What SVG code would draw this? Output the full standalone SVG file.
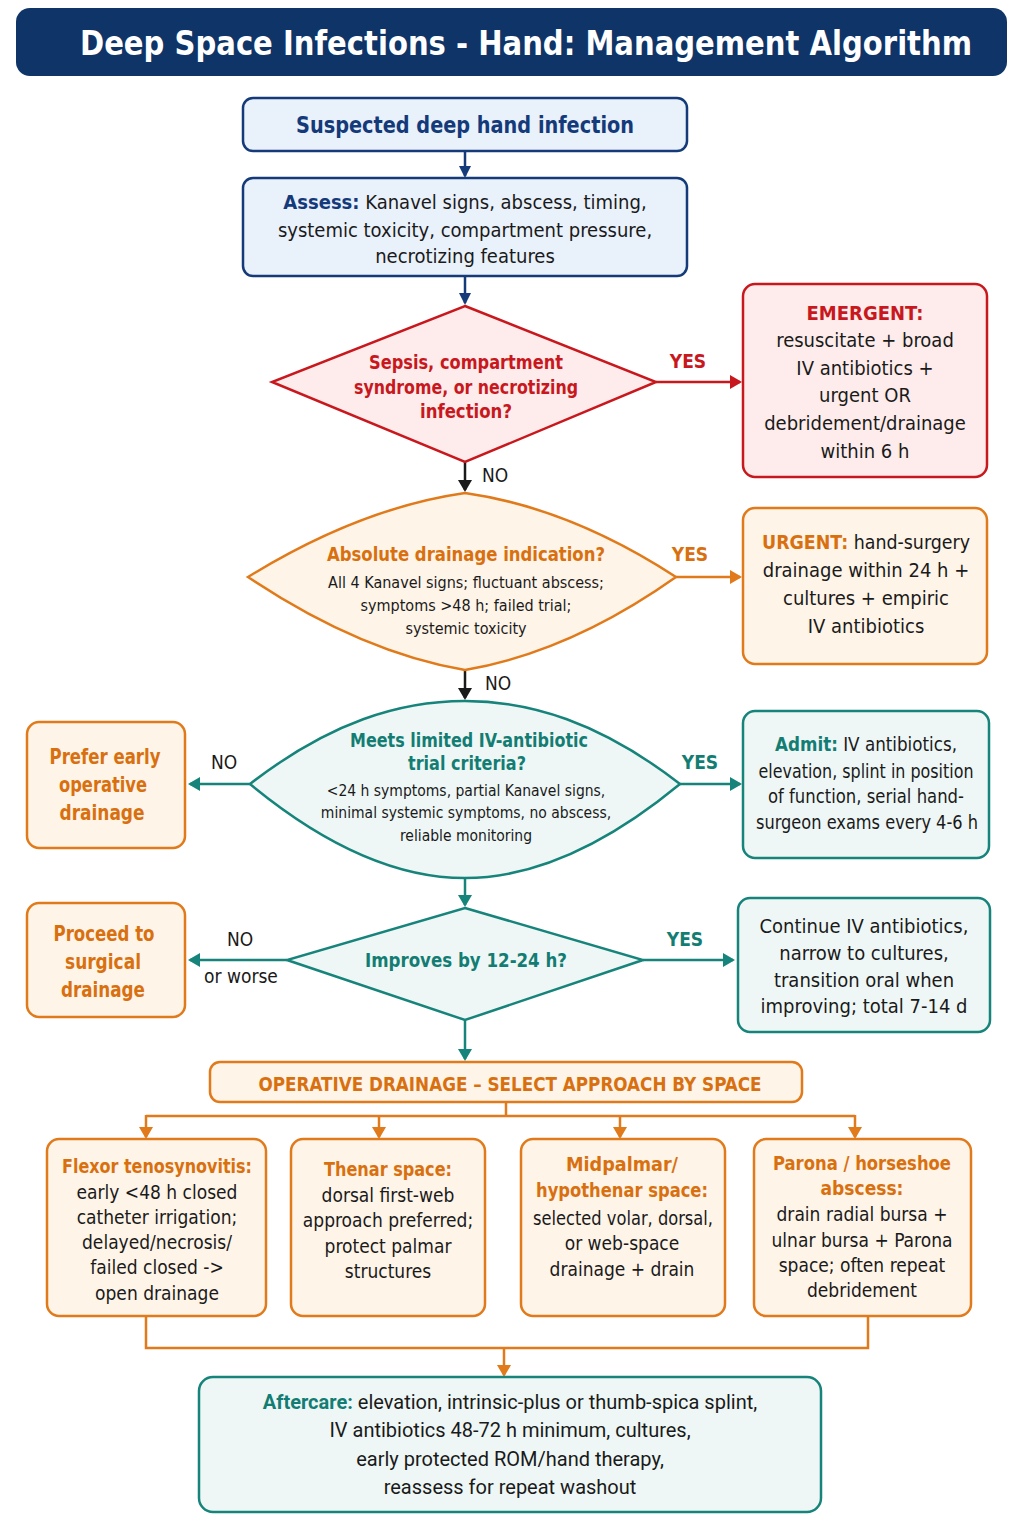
<svg xmlns="http://www.w3.org/2000/svg" width="1024" height="1536" viewBox="0 0 1024 1536">
<defs>
<style>
text{font-family:"Liberation Sans Narrow","DejaVu Sans Condensed","Roboto",sans-serif;text-anchor:middle;fill:#1a1a1a;}
.b{font-weight:bold;}
.navy{fill:#143a7a;} .red{fill:#c8181e;} .org{fill:#d9700f;} .teal{fill:#137d73;}
.t20{font-size:20px;} .t19{font-size:19px;} .t16{font-size:16px;}
.ln{fill:none;stroke-width:2.5;}
.lnavy{stroke:#143a7a;} .lred{stroke:#c8181e;} .lorg{stroke:#e07a1a;} .lteal{stroke:#16847a;} .lblk{stroke:#1a1a1a;}
.nnavy{fill:#e9f1fb;stroke:#143a7a;stroke-width:2.5;}
.nred{fill:#fdeceb;stroke:#c8181e;stroke-width:2.5;}
.norg{fill:#fef4e8;stroke:#e07a1a;stroke-width:2.5;}
.nteal{fill:#eef7f6;stroke:#16847a;stroke-width:2.5;}
.sans{font-family:"Roboto","Liberation Sans",sans-serif;}
</style>
<marker id="aNavy" markerWidth="12" markerHeight="12" refX="10" refY="6" orient="auto" markerUnits="userSpaceOnUse"><path d="M0,0 L12,6 L0,12 Z" fill="#143a7a"/></marker>
<marker id="aRed" markerWidth="12" markerHeight="14" refX="10" refY="7" orient="auto" markerUnits="userSpaceOnUse"><path d="M0,0 L12,7 L0,14 Z" fill="#c8181e"/></marker>
<marker id="aOrg" markerWidth="12" markerHeight="14" refX="10" refY="7" orient="auto" markerUnits="userSpaceOnUse"><path d="M0,0 L12,7 L0,14 Z" fill="#e07a1a"/></marker>
<marker id="aTeal" markerWidth="12" markerHeight="14" refX="10" refY="7" orient="auto" markerUnits="userSpaceOnUse"><path d="M0,0 L12,7 L0,14 Z" fill="#16847a"/></marker>
<marker id="aBlk" markerWidth="12" markerHeight="14" refX="10" refY="7" orient="auto" markerUnits="userSpaceOnUse"><path d="M0,0 L12,7 L0,14 Z" fill="#1a1a1a"/></marker>
</defs>
<rect width="1024" height="1536" fill="#ffffff"/>

<g id="title">
<rect x="16" y="8" width="991" height="68" rx="14" fill="#0e3468"/>
<text x="526" y="55" class="b" style="font-size:34px;fill:#ffffff;" textLength="892" lengthAdjust="spacingAndGlyphs">Deep Space Infections - Hand: Management Algorithm</text>
</g>

<g id="connectors">
<line x1="465" y1="151" x2="465" y2="176" class="ln lnavy" marker-end="url(#aNavy)"/>
<line x1="465" y1="276" x2="465" y2="303" class="ln lnavy" marker-end="url(#aNavy)"/>
<line x1="656" y1="382" x2="740" y2="382" class="ln lred" marker-end="url(#aRed)"/>
<text x="688" y="368" class="b red t19">YES</text>
<line x1="465" y1="462" x2="465" y2="490" class="ln lblk" marker-end="url(#aBlk)"/>
<text x="495" y="482" class="t19">NO</text>
<line x1="676" y1="577" x2="740" y2="577" class="ln lorg" marker-end="url(#aOrg)"/>
<text x="690" y="561" class="b org t19">YES</text>
<line x1="465" y1="670" x2="465" y2="698" class="ln lblk" marker-end="url(#aBlk)"/>
<text x="498" y="690" class="t19">NO</text>
<line x1="250" y1="784" x2="190" y2="784" class="ln lteal" marker-end="url(#aTeal)"/>
<text x="224" y="769" class="t19">NO</text>
<line x1="680" y1="784" x2="740" y2="784" class="ln lteal" marker-end="url(#aTeal)"/>
<text x="700" y="769" class="b teal t19">YES</text>
<line x1="465" y1="878" x2="465" y2="905" class="ln lteal" marker-end="url(#aTeal)"/>
<line x1="287" y1="960" x2="190" y2="960" class="ln lteal" marker-end="url(#aTeal)"/>
<text x="240" y="946" class="t19">NO</text>
<text x="241" y="983" class="t19">or worse</text>
<line x1="643" y1="960" x2="733" y2="960" class="ln lteal" marker-end="url(#aTeal)"/>
<text x="685" y="946" class="b teal t19">YES</text>
<line x1="465" y1="1020" x2="465" y2="1059" class="ln lteal" marker-end="url(#aTeal)"/>
<polyline points="506,1102 506,1116" class="ln lorg"/>
<polyline points="146,1116 855,1116" class="ln lorg"/>
<line x1="146" y1="1115" x2="146" y2="1137" class="ln lorg" marker-end="url(#aOrg)"/>
<line x1="379" y1="1115" x2="379" y2="1137" class="ln lorg" marker-end="url(#aOrg)"/>
<line x1="620" y1="1115" x2="620" y2="1137" class="ln lorg" marker-end="url(#aOrg)"/>
<line x1="855" y1="1115" x2="855" y2="1137" class="ln lorg" marker-end="url(#aOrg)"/>
<polyline points="146,1316 146,1348 868,1348 868,1316" class="ln lorg"/>
<line x1="504" y1="1348" x2="504" y2="1375" class="ln lorg" marker-end="url(#aOrg)"/>
</g>

<g id="start">
<rect x="243" y="98" width="444" height="53" rx="10" class="nnavy"/>
<text x="465" y="133" class="b navy" style="font-size:23px;" textLength="338" lengthAdjust="spacingAndGlyphs">Suspected deep hand infection</text>
</g>

<g id="assess">
<rect x="243" y="178" width="444" height="98" rx="10" class="nnavy"/>
<text x="465" y="209" class="t20"><tspan class="b navy">Assess:</tspan> Kanavel signs, abscess, timing,</text>
<text x="465" y="237" class="t20">systemic toxicity, compartment pressure,</text>
<text x="465" y="263" class="t20">necrotizing features</text>
</g>

<g id="dec-sepsis">
<polygon points="465,306 656,382 465,462 272,382" class="nred"/>
<text x="466" y="369" class="b red t19" textLength="194" lengthAdjust="spacingAndGlyphs">Sepsis, compartment</text>
<text x="466" y="394" class="b red t19" textLength="224" lengthAdjust="spacingAndGlyphs">syndrome, or necrotizing</text>
<text x="466" y="418" class="b red t19" textLength="92" lengthAdjust="spacingAndGlyphs">infection?</text>
</g>

<g id="emergent">
<rect x="743" y="284" width="244" height="193" rx="12" class="nred"/>
<text x="865" y="320" class="b red t20">EMERGENT:</text>
<text x="865" y="347" class="t20">resuscitate + broad</text>
<text x="865" y="375" class="t20">IV antibiotics +</text>
<text x="865" y="402" class="t20">urgent OR</text>
<text x="865" y="430" class="t20">debridement/drainage</text>
<text x="865" y="458" class="t20">within 6 h</text>
</g>

<g id="dec-absolute">
<path d="M248,577 Q360,508 465,493 Q570,508 676,577 Q570,652 465,670 Q360,652 248,577 Z" class="norg"/>
<text x="466" y="561" class="b org t20" textLength="278" lengthAdjust="spacingAndGlyphs">Absolute drainage indication?</text>
<text x="466" y="588" class="t16">All 4 Kanavel signs; fluctuant abscess;</text>
<text x="466" y="611" class="t16">symptoms &gt;48 h; failed trial;</text>
<text x="466" y="634" class="t16">systemic toxicity</text>
</g>

<g id="urgent">
<rect x="743" y="508" width="244" height="156" rx="12" class="norg"/>
<text x="866" y="549" class="t20" textLength="208" lengthAdjust="spacingAndGlyphs"><tspan class="b org">URGENT:</tspan> hand-surgery</text>
<text x="866" y="577" class="t20">drainage within 24 h +</text>
<text x="866" y="605" class="t20">cultures + empiric</text>
<text x="866" y="633" class="t20">IV antibiotics</text>
</g>

<g id="dec-trial">
<path d="M250,784 C330,722 400,701 465,701 C530,701 600,722 680,784 C600,850 530,878 465,878 C400,878 330,850 250,784 Z" class="nteal"/>
<text x="469" y="747" class="b teal t20" textLength="238" lengthAdjust="spacingAndGlyphs">Meets limited IV-antibiotic</text>
<text x="467" y="770" class="b teal t20" textLength="118" lengthAdjust="spacingAndGlyphs">trial criteria?</text>
<text x="466" y="796" style="font-size:15.5px;">&lt;24 h symptoms, partial Kanavel signs,</text>
<text x="466" y="818" style="font-size:15.5px;">minimal systemic symptoms, no abscess,</text>
<text x="466" y="841" style="font-size:15.5px;">reliable monitoring</text>
</g>

<g id="prefer-early">
<rect x="27" y="722" width="158" height="126" rx="12" class="norg"/>
<text x="105" y="764" class="b org" style="font-size:22px;" textLength="111" lengthAdjust="spacingAndGlyphs">Prefer early</text>
<text x="103" y="792" class="b org" style="font-size:22px;" textLength="88" lengthAdjust="spacingAndGlyphs">operative</text>
<text x="102" y="820" class="b org" style="font-size:22px;" textLength="85" lengthAdjust="spacingAndGlyphs">drainage</text>
</g>

<g id="admit">
<rect x="743" y="711" width="246" height="147" rx="12" class="nteal"/>
<text x="866" y="751" class="t19" textLength="182" lengthAdjust="spacingAndGlyphs"><tspan class="b teal">Admit:</tspan> IV antibiotics,</text>
<text x="866" y="778" class="t19" textLength="215" lengthAdjust="spacingAndGlyphs">elevation, splint in position</text>
<text x="866" y="803" class="t19" textLength="196" lengthAdjust="spacingAndGlyphs">of function, serial hand-</text>
<text x="867" y="829" class="t19" textLength="222" lengthAdjust="spacingAndGlyphs">surgeon exams every 4-6 h</text>
</g>

<g id="dec-improves">
<polygon points="465,908 643,960 465,1020 287,960" class="nteal"/>
<text x="466" y="967" class="b teal t20" textLength="202" lengthAdjust="spacingAndGlyphs">Improves by 12-24 h?</text>
</g>

<g id="proceed">
<rect x="27" y="903" width="158" height="114" rx="12" class="norg"/>
<text x="104" y="941" class="b org" style="font-size:22px;" textLength="101" lengthAdjust="spacingAndGlyphs">Proceed to</text>
<text x="103" y="969" class="b org" style="font-size:22px;" textLength="76" lengthAdjust="spacingAndGlyphs">surgical</text>
<text x="103" y="997" class="b org" style="font-size:22px;" textLength="84" lengthAdjust="spacingAndGlyphs">drainage</text>
</g>

<g id="continue">
<rect x="738" y="898" width="252" height="134" rx="12" class="nteal"/>
<text x="864" y="933" class="t20">Continue IV antibiotics,</text>
<text x="864" y="960" class="t20">narrow to cultures,</text>
<text x="864" y="987" class="t20">transition oral when</text>
<text x="864" y="1013" class="t20">improving; total 7-14 d</text>
</g>

<g id="operative">
<rect x="210" y="1062" width="592" height="40" rx="10" class="norg"/>
<text x="510" y="1091" class="b org t19" textLength="503" lengthAdjust="spacingAndGlyphs">OPERATIVE DRAINAGE – SELECT APPROACH BY SPACE</text>
</g>

<g id="flexor">
<rect x="47" y="1139" width="219" height="177" rx="12" class="norg"/>
<text x="157" y="1173" class="b org t19" textLength="190" lengthAdjust="spacingAndGlyphs">Flexor tenosynovitis:</text>
<text x="157" y="1199" class="t19">early &lt;48 h closed</text>
<text x="157" y="1224" class="t19">catheter irrigation;</text>
<text x="157" y="1249" class="t19">delayed/necrosis/</text>
<text x="157" y="1274" class="t19">failed closed -&gt;</text>
<text x="157" y="1300" class="t19">open drainage</text>
</g>

<g id="thenar">
<rect x="291" y="1139" width="194" height="177" rx="12" class="norg"/>
<text x="388" y="1176" class="b org t19" textLength="128" lengthAdjust="spacingAndGlyphs">Thenar space:</text>
<text x="388" y="1202" class="t19">dorsal first-web</text>
<text x="388" y="1227" class="t19">approach preferred;</text>
<text x="388" y="1253" class="t19">protect palmar</text>
<text x="388" y="1278" class="t19">structures</text>
</g>

<g id="midpalmar">
<rect x="521" y="1139" width="204" height="177" rx="12" class="norg"/>
<text x="622" y="1171" class="b org t19" textLength="112" lengthAdjust="spacingAndGlyphs">Midpalmar/</text>
<text x="622" y="1197" class="b org t19" textLength="172" lengthAdjust="spacingAndGlyphs">hypothenar space:</text>
<text x="623" y="1225" class="t19" textLength="180" lengthAdjust="spacingAndGlyphs">selected volar, dorsal,</text>
<text x="622" y="1250" class="t19">or web-space</text>
<text x="622" y="1276" class="t19">drainage + drain</text>
</g>

<g id="parona">
<rect x="754" y="1139" width="217" height="177" rx="12" class="norg"/>
<text x="862" y="1170" class="b org t19" textLength="178" lengthAdjust="spacingAndGlyphs">Parona / horseshoe</text>
<text x="862" y="1195" class="b org t19">abscess:</text>
<text x="862" y="1221" class="t19">drain radial bursa +</text>
<text x="862" y="1247" class="t19">ulnar bursa + Parona</text>
<text x="862" y="1272" class="t19">space; often repeat</text>
<text x="862" y="1297" class="t19">debridement</text>
</g>

<g id="aftercare">
<rect x="199" y="1377" width="622" height="135" rx="14" class="nteal"/>
<text x="510" y="1409" class="t20 sans"><tspan class="b teal">Aftercare:</tspan> elevation, intrinsic-plus or thumb-spica splint,</text>
<text x="510" y="1437" class="t20 sans">IV antibiotics 48-72 h minimum, cultures,</text>
<text x="510" y="1466" class="t20 sans">early protected ROM/hand therapy,</text>
<text x="510" y="1494" class="t20 sans">reassess for repeat washout</text>
</g>
</svg>
